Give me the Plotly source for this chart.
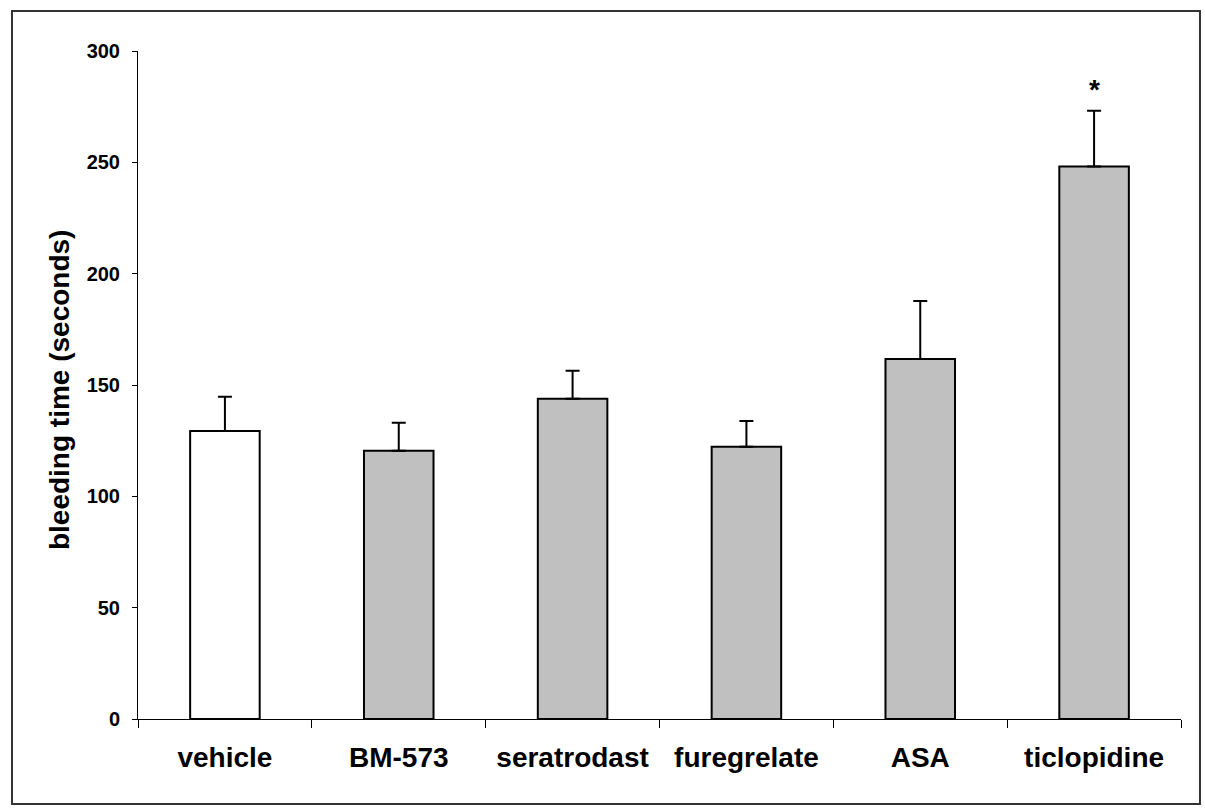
import plotly.graph_objects as go

categories = ["vehicle", "BM-573", "seratrodast", "furegrelate", "ASA", "ticlopidine"]
values = [129.3, 120.5, 143.8, 122.3, 161.7, 248.1]
errors = [15.4, 12.5, 12.6, 11.5, 26.0, 25.1]
fills = ["#FFFFFF", "#C0C0C0", "#C0C0C0", "#C0C0C0", "#C0C0C0", "#C0C0C0"]
significant = ["", "", "", "", "", "*"]
y_ticks = [0, 50, 100, 150, 200, 250, 300]

FONT = "Liberation Sans, Arial, sans-serif"

fig = go.Figure()
fig.add_trace(go.Bar(
    x=categories, y=values,
    marker=dict(color=fills, line=dict(color="black", width=2)),
    error_y=dict(type="data", symmetric=False, array=errors,
                 arrayminus=[0] * len(errors),
                 color="black", thickness=2, width=7),
    width=0.4,
    showlegend=False,
))

for c, v, e, s in zip(categories, values, errors, significant):
    if s:
        fig.add_annotation(x=c, y=v + e + 9.5, text=s, showarrow=False,
                           xref="x", yref="y", yanchor="middle",
                           font=dict(family=FONT, size=28, color="black", weight="bold"))

fig.add_annotation(x=-0.0757, y=0.4925, xref="paper", yref="paper",
                   text="bleeding time (seconds)", textangle=-90, showarrow=False,
                   xanchor="center", yanchor="middle",
                   font=dict(family=FONT, size=28, color="black", weight="bold"))

fig.add_shape(type="rect", xref="paper", yref="paper",
              x0=-0.1208, x1=1.0182, y0=-0.1272, y1=1.0599,
              line=dict(color="#333333", width=2), fillcolor="rgba(0,0,0,0)")

fig.update_layout(
    width=1205, height=809,
    margin=dict(l=138, r=24, t=51, b=90),
    paper_bgcolor="white", plot_bgcolor="white",
    font=dict(family=FONT, color="black"),
)
fig.update_xaxes(
    showline=True, linecolor="black", linewidth=1,
    ticks="outside", tickson="boundaries", ticklen=8, tickcolor="black", tickwidth=1,
    tickfont=dict(family=FONT, size=28, color="black", weight="bold"),
    ticklabelstandoff=13,
    showgrid=False, zeroline=False,
)
fig.update_yaxes(
    range=[0, 300], tickvals=y_ticks,
    showline=True, linecolor="black", linewidth=1,
    ticks="outside", ticklen=5, tickcolor="black", tickwidth=1,
    tickfont=dict(family=FONT, size=20, color="black", weight="bold"),
    ticklabelstandoff=8,
    showgrid=False, zeroline=False,
)

fig.write_html("out.html")
